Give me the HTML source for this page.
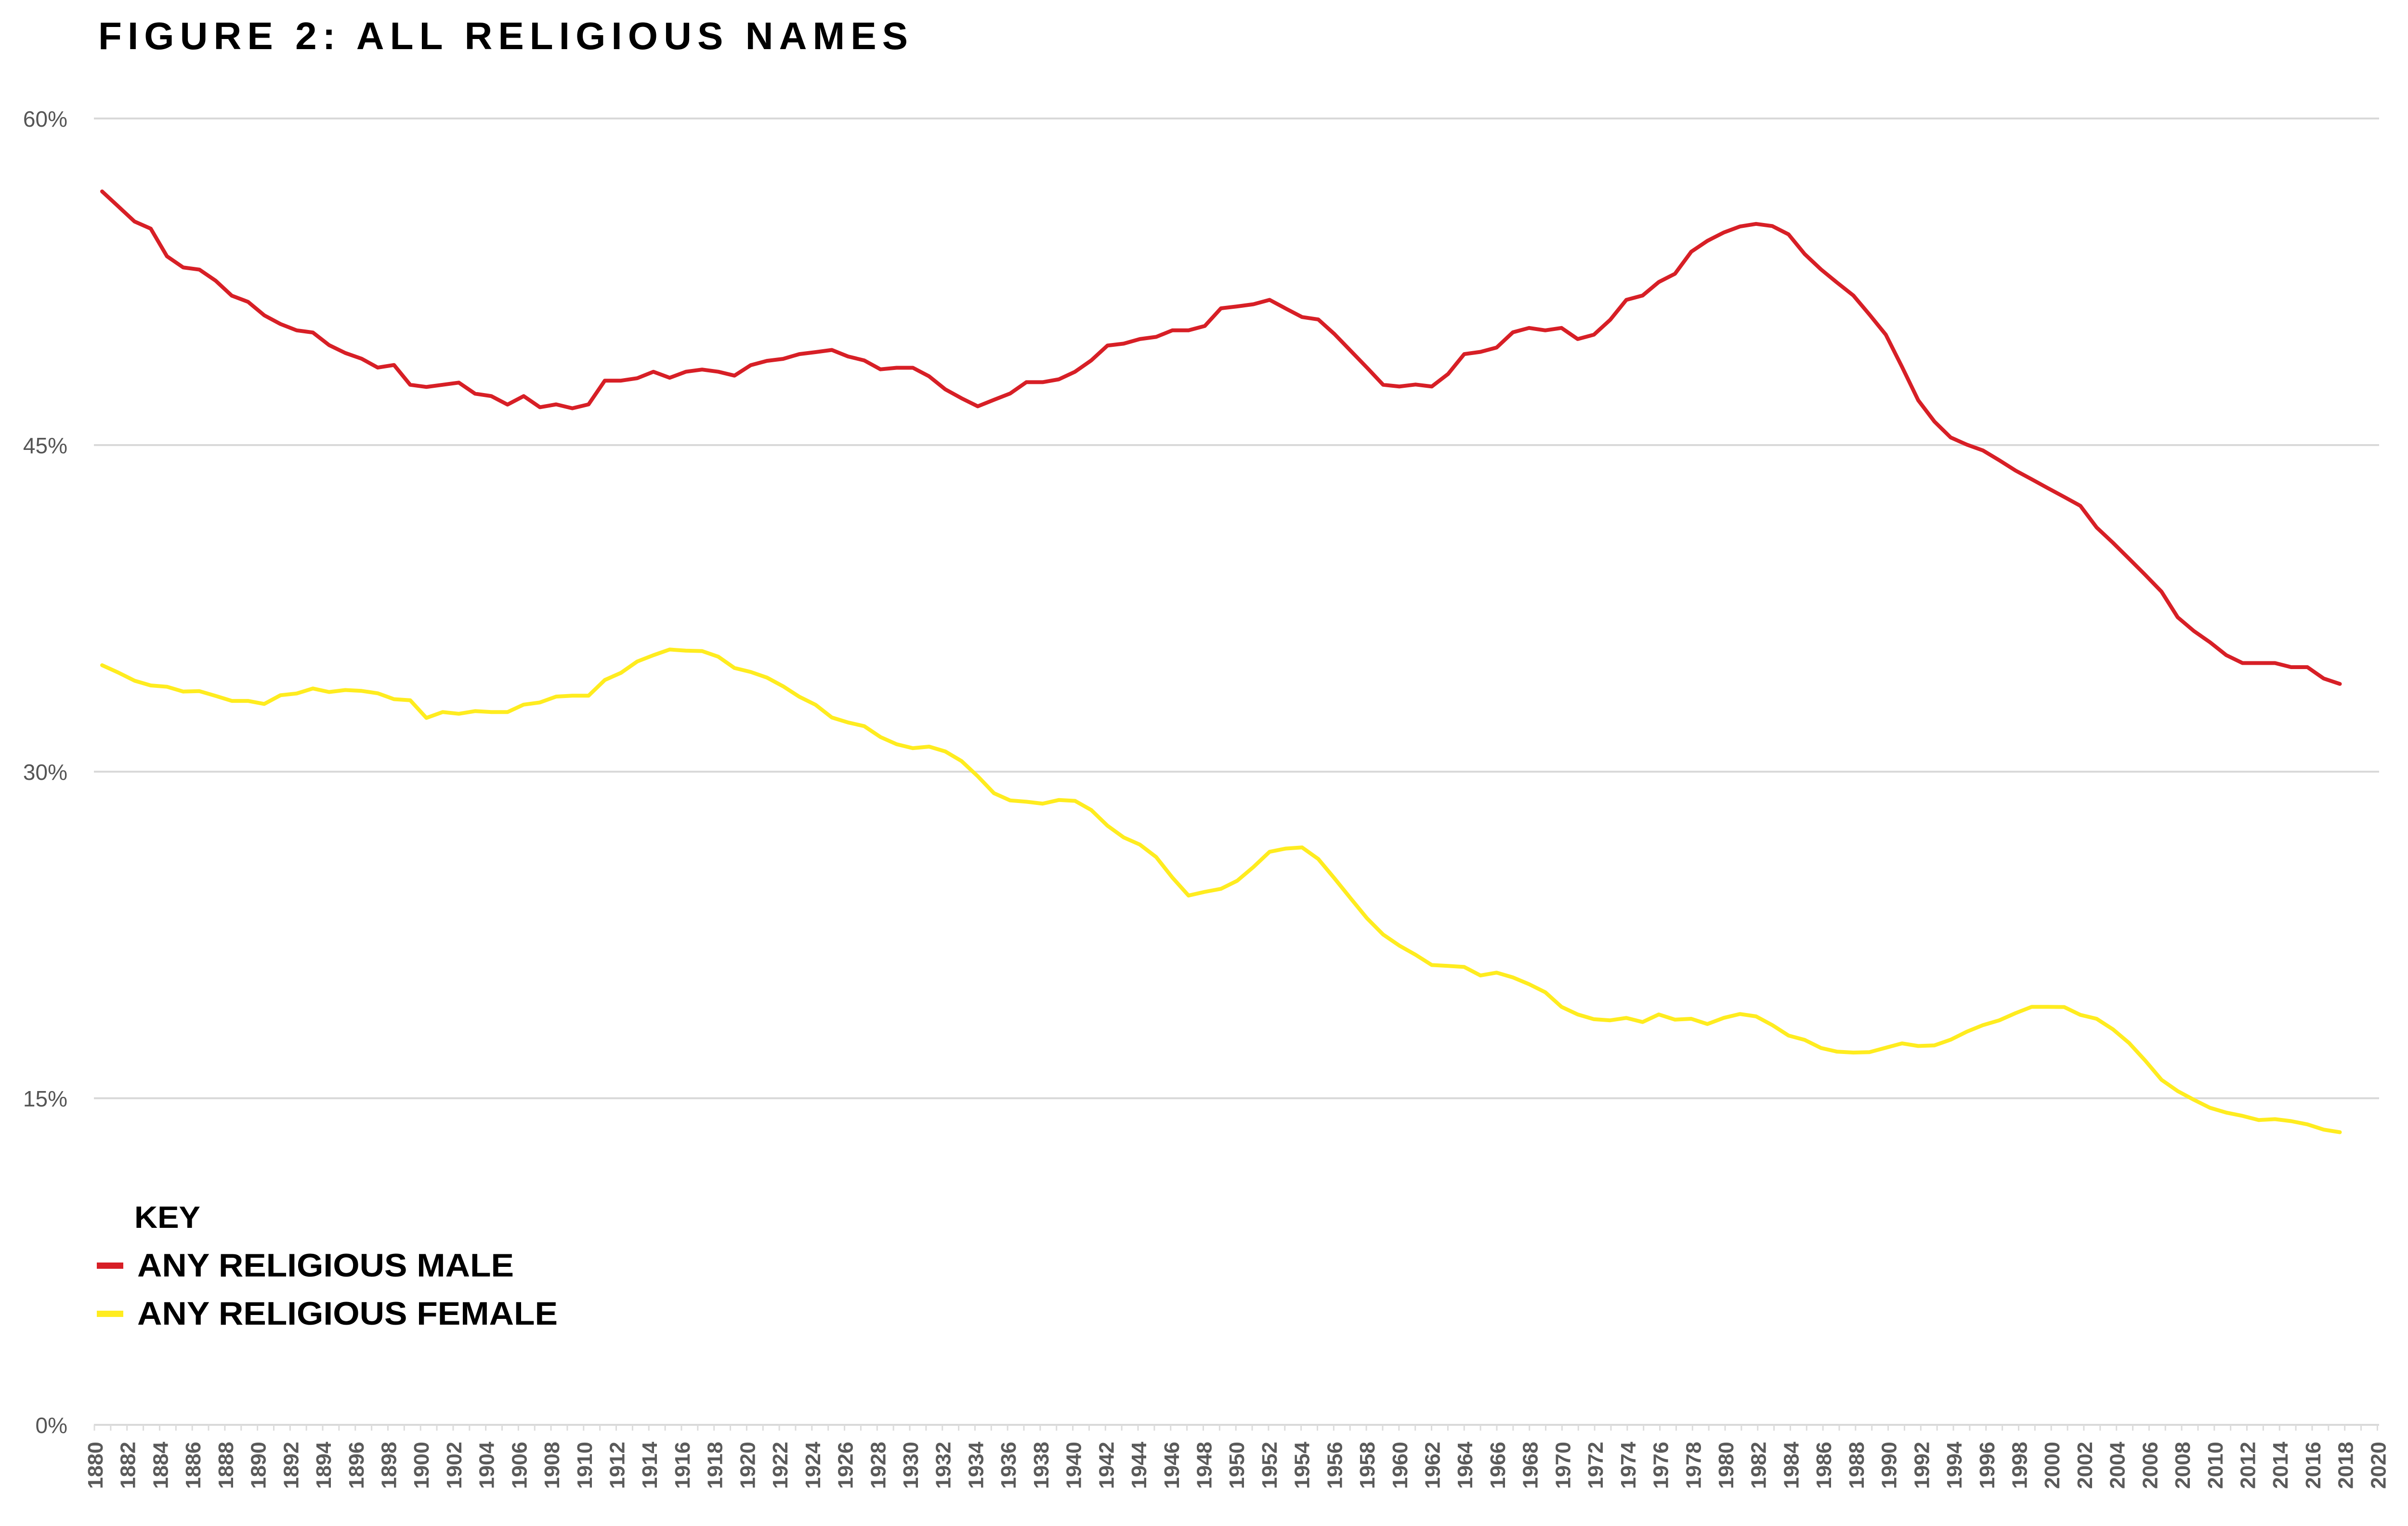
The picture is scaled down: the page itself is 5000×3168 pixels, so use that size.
<!DOCTYPE html>
<html><head><meta charset="utf-8"><style>html,body{margin:0;padding:0;background:#fff}svg{display:block}</style></head>
<body>
<svg id="chart" xmlns="http://www.w3.org/2000/svg" width="5000" height="3168" viewBox="0 0 5000 3168" font-family="'Liberation Sans', sans-serif">
<rect width="5000" height="3168" fill="#fff"/>
<text x="204" y="102" font-size="80" font-weight="bold" fill="#000" textLength="1681" lengthAdjust="spacing">FIGURE 2: ALL RELIGIOUS NAMES</text>
<g id="grid"></g><g id="xaxis"></g><g id="series"></g>
<g>
<text x="279" y="2549" font-size="64" font-weight="bold" fill="#000" textLength="137" lengthAdjust="spacingAndGlyphs">KEY</text>
<rect x="201" y="2621" width="55" height="13" fill="#d71f26"/>
<text x="285" y="2650" font-size="68" font-weight="bold" fill="#000" textLength="782" lengthAdjust="spacingAndGlyphs">ANY RELIGIOUS MALE</text>
<rect x="201" y="2721" width="55" height="13" fill="#ffec1f"/>
<text x="285" y="2750" font-size="68" font-weight="bold" fill="#000" textLength="873" lengthAdjust="spacingAndGlyphs">ANY RELIGIOUS FEMALE</text>
</g>
</svg>
<script>
const startYear = 1880;
const yTicks = [0, 15, 30, 45, 60];
const yTickLabels = ["0%", "15%", "30%", "45%", "60%"];
const xTickYears = [];
for (let y = 1880; y <= 2020; y++) xTickYears.push(y);
const maleValues = [
56.65,55.96,55.27,54.94,53.67,53.16,53.06,52.55,51.86,51.58,
50.96,50.56,50.27,50.17,49.59,49.23,48.97,48.56,48.68,47.77,
47.67,47.77,47.87,47.36,47.25,46.86,47.25,46.74,46.87,46.69,
46.87,47.96,47.96,48.07,48.37,48.09,48.37,48.47,48.37,48.19,
48.67,48.87,48.96,49.18,49.27,49.37,49.07,48.89,48.48,48.55,
48.55,48.16,47.56,47.15,46.78,47.08,47.37,47.89,47.89,48.02,
48.37,48.89,49.57,49.66,49.87,49.97,50.27,50.27,50.47,51.28,
51.37,51.47,51.67,51.27,50.88,50.77,50.10,49.33,48.56,47.77,
47.69,47.78,47.69,48.26,49.18,49.28,49.48,50.18,50.38,50.27,
50.38,49.87,50.07,50.75,51.67,51.87,52.49,52.87,53.88,54.38,
54.76,55.04,55.16,55.06,54.68,53.77,53.07,52.46,51.87,50.99,
50.07,48.59,47.06,46.08,45.35,45.02,44.75,44.30,43.83,43.43,
43.02,42.62,42.21,41.22,40.52,39.78,39.04,38.27,37.09,36.46,
35.94,35.35,34.99,34.99,34.99,34.80,34.80,34.28,34.03];
const femaleValues = [
34.89,34.55,34.18,33.96,33.90,33.68,33.70,33.48,33.25,33.25,
33.11,33.51,33.59,33.82,33.66,33.75,33.71,33.60,33.33,33.28,
32.47,32.74,32.66,32.78,32.74,32.74,33.08,33.18,33.45,33.49,
33.49,34.21,34.54,35.06,35.35,35.61,35.56,35.54,35.28,34.76,
34.58,34.32,33.92,33.44,33.07,32.49,32.26,32.09,31.59,31.26,
31.08,31.15,30.93,30.49,29.79,29.01,28.68,28.62,28.53,28.70,
28.66,28.24,27.52,26.98,26.65,26.08,25.14,24.31,24.48,24.62,
24.99,25.62,26.32,26.47,26.52,25.99,25.10,24.18,23.27,22.52,
22.01,21.59,21.12,21.08,21.03,20.64,20.77,20.55,20.24,19.87,
19.20,18.85,18.63,18.58,18.69,18.50,18.85,18.61,18.65,18.41,
18.69,18.87,18.76,18.36,17.88,17.68,17.31,17.14,17.10,17.12,
17.32,17.52,17.40,17.43,17.69,18.06,18.36,18.58,18.91,19.20,
19.20,19.19,18.83,18.65,18.17,17.54,16.73,15.85,15.33,14.93,
14.56,14.34,14.19,14.00,14.04,13.95,13.80,13.56,13.44];

const NS = "http://www.w3.org/2000/svg";
function yScale(v) { return 2958 - v * 45.2; }
function xData(i) { return 212 + i * 33.67; }
function xTick(year) { return 196 + (year - 1880) * 33.86; }
function mk(tag, attrs, parent) {
  const el = document.createElementNS(NS, tag);
  for (const k in attrs) el.setAttribute(k, attrs[k]);
  parent.appendChild(el);
  return el;
}
const grid = document.getElementById("grid");
yTicks.forEach((v, i) => {
  const ln = mk("line", {x1: 195, x2: 4940, y1: yScale(v), y2: yScale(v), stroke: "#d9d9d9", "stroke-width": 4}, grid);
  
  
  const t = mk("text", {x: 140, y: yScale(v) + 17, "text-anchor": "end", "font-size": 46, fill: "#555"}, grid);
  t.textContent = yTickLabels[i];
  
  
});
const xaxis = document.getElementById("xaxis");
xTickYears.forEach(yr => {
  const x = xTick(yr);
  const tk = mk("line", {x1: x, x2: x, y1: 2958, y2: 2970, stroke: "#dcdcdc", "stroke-width": 3}, xaxis);
  
  
  if (yr % 2 === 0) {
    const t = mk("text", {transform: "translate(" + (x + 17) + ",2993) rotate(-90)", "text-anchor": "end", "font-size": 44, "font-weight": "bold", fill: "#5a5a5a", textLength: 98, lengthAdjust: "spacingAndGlyphs"}, xaxis);
    t.textContent = String(yr);
    
    
  }
});
const series = document.getElementById("series");
function drawLine(vals, color, name) {
  const pts = vals.map((v, i) => xData(i).toFixed(1) + "," + yScale(v).toFixed(1)).join(" ");
  const pl = mk("polyline", {points: pts, fill: "none", stroke: color, "stroke-width": 8, "stroke-linejoin": "round", "stroke-linecap": "round"}, series);
  
  
}
drawLine(maleValues, "#d71f26", "line-any-religious-male");
drawLine(femaleValues, "#ffec1f", "line-any-religious-female");
</script>
</body></html>
